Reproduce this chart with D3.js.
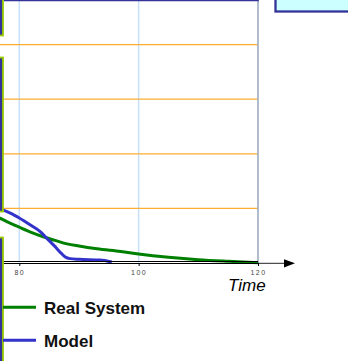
<!DOCTYPE html>
<html>
<head>
<meta charset="utf-8">
<script src="https://cdn.jsdelivr.net/npm/d3@7"></script>
<style>
  body { margin: 0; background: #fff; }
  svg { display: block; font-family: "Liberation Sans", Arial, sans-serif; }
</style>
</head>
<body>
<div id="chart"></div>
<script>
// Time ticks and horizontal grid levels
const timeTicks = [80, 100, 120];
const levelGrid = [20, 40, 60, 80];

// Real System (green)
const realTime = [76, 78, 80, 82, 84, 86, 88, 90, 93, 97, 100, 105, 110, 115, 120];
const realValue = [17.2, 15.1, 13.1, 11.2, 9.6, 8.3, 7.0, 6.2, 5.2, 4.2, 3.3, 2.1, 1.2, 0.6, 0.1];

// Model (blue)
const modelTime = [76, 77, 78.5, 80, 82, 83.5, 84.5, 86, 87, 87.7, 88.5, 90, 93.5, 95.5];
const modelValue = [20, 19.6, 18.3, 16.5, 13.7, 11.5, 9.3, 6.0, 3.6, 2.2, 1.6, 1.35, 1.1, 0.4];

const legendNames = ["Real System", "Model"];
const legendColors = ["#008000", "#3333cc"];

const W = 348, H = 361;

const svg = d3.select("#chart")
  .append("svg")
    .attr("width", W)
    .attr("height", H);

svg.append("rect").attr("width", W).attr("height", H).attr("fill", "#fff");

const x = d3.scaleLinear().domain([80, 120]).range([19.3, 258]);
const y = d3.scaleLinear().domain([0, 80]).range([263, 44.6]);

// vertical grid
svg.append("g")
  .selectAll("line")
  .data(timeTicks.slice(0, 2))
  .enter()
  .append("line")
    .attr("x1", d => x(d)).attr("x2", d => x(d))
    .attr("y1", 0).attr("y2", y(0))
    .attr("stroke", "#c6e0fb")
    .attr("stroke-width", 1.5);

// horizontal grid
svg.append("g")
  .selectAll("line")
  .data(levelGrid)
  .enter()
  .append("line")
    .attr("x1", 0).attr("x2", x(120))
    .attr("y1", d => y(d)).attr("y2", d => y(d))
    .attr("stroke", "#ffad33")
    .attr("stroke-width", 1.2);

// right frame line
svg.append("line")
  .attr("x1", x(120)).attr("x2", x(120))
  .attr("y1", 0).attr("y2", y(0))
  .attr("stroke", "#a3b1c2")
  .attr("stroke-width", 1.7);

// top frame line
svg.append("line")
  .attr("x1", 4).attr("x2", x(120) + 0.8)
  .attr("y1", 0.6).attr("y2", 0.6)
  .attr("stroke", "#333399")
  .attr("stroke-width", 1.4);

// curves
const line = d3.line()
  .x(d => x(d[0]))
  .y(d => y(d[1]))
  .curve(d3.curveMonotoneX);

svg.append("path")
  .datum(realTime.map((t, i) => [t, realValue[i]]))
  .attr("fill", "none")
  .attr("stroke", legendColors[0])
  .attr("stroke-width", 3)
  .attr("d", line);

svg.append("path")
  .datum(modelTime.map((t, i) => [t, modelValue[i]]))
  .attr("fill", "none")
  .attr("stroke", legendColors[1])
  .attr("stroke-width", 3)
  .attr("d", line);

// x axis: double line, arrow
[261.5, 263.5].forEach(yy => {
  svg.append("line")
    .attr("x1", 3).attr("x2", x(120))
    .attr("y1", yy).attr("y2", yy)
    .attr("stroke", "#000")
    .attr("stroke-width", 1)
    .attr("shape-rendering", "crispEdges");
});
svg.append("line")
  .attr("x1", x(120)).attr("x2", 285)
  .attr("y1", 263.3).attr("y2", 263.3)
  .attr("stroke", "#222")
  .attr("stroke-width", 1);
svg.append("path")
  .attr("d", "M284,259.2L295,263.3L284,267.4Z")
  .attr("fill", "#000");

const xAxis = svg.append("g")
  .attr("transform", `translate(0,${y(0)})`)
  .call(d3.axisBottom(x).tickValues(timeTicks).tickSize(3).tickSizeOuter(0));
xAxis.select(".domain").remove();
xAxis.selectAll(".tick line").attr("stroke", "#000");
xAxis.selectAll("text")
  .attr("y", 12)
  .attr("dy", 0)
  .attr("fill", "#444")
  .style("font-size", "7px")
  .style("letter-spacing", "1.5px")
  .style("font-family", "\"Liberation Sans\", Arial, sans-serif");

svg.append("text")
  .attr("x", 228)
  .attr("y", 291)
  .style("font-size", "17px")
  .style("font-style", "italic")
  .attr("fill", "#000")
  .text("Time");

// left side panels (clipped)
const sideBoxes = [[-10, 35.5], [57.5, 211.5], [237.5, 380]];
svg.append("g")
  .selectAll("rect")
  .data(sideBoxes)
  .enter()
  .append("rect")
    .attr("x", -10)
    .attr("width", 13)
    .attr("y", d => d[0])
    .attr("height", d => d[1] - d[0])
    .attr("fill", "#333399")
    .attr("stroke", "#99cc00")
    .attr("stroke-width", 1.8);

// top-right box (clipped)
svg.append("rect")
  .attr("x", 275.5).attr("y", -10)
  .attr("width", 90).attr("height", 21.5)
  .attr("fill", "#ccffff")
  .attr("stroke", "#333399")
  .attr("stroke-width", 2.3);

// legend
const legend = svg.append("g");
const items = legend.selectAll(".legend-item")
  .data(legendNames)
  .enter()
  .append("g")
    .attr("class", "legend-item")
    .attr("transform", (d, i) => `translate(0, ${307.3 + i * 33})`);

items.append("line")
  .attr("x1", 3).attr("x2", 36)
  .attr("y1", 0).attr("y2", 0)
  .attr("stroke", (d, i) => legendColors[i])
  .attr("stroke-width", 3);

items.append("text")
  .attr("x", 44)
  .attr("y", 6.3)
  .style("font-size", "17px")
  .style("font-weight", "bold")
  .attr("fill", "#111")
  .text(d => d);
</script>
</body>
</html>
